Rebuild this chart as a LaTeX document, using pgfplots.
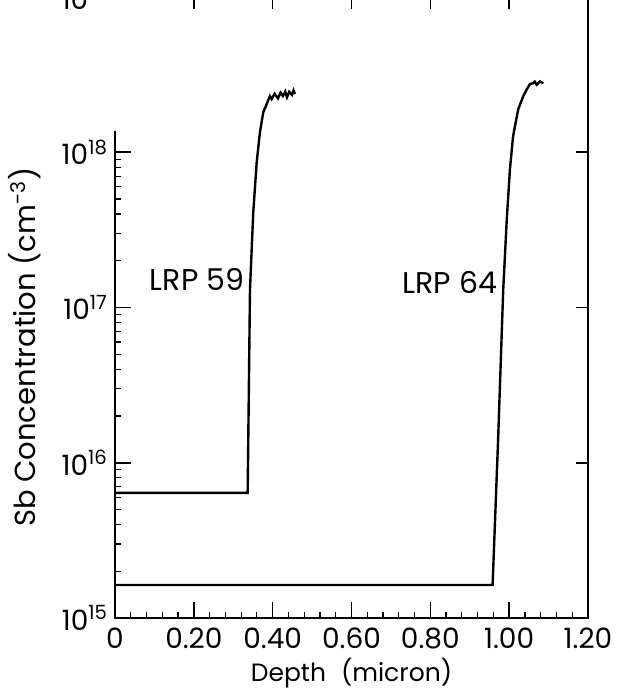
\documentclass[border=0pt]{standalone}
\usepackage{pgfplots}
\usepackage{pgfplotstable}
\pgfplotsset{compat=1.18}
\usepackage{fontspec}
\setmainfont{Poppins}

\pgfplotstableread{
x y
0.000 6.40e15
0.3366 6.40e15
0.3425 1.31e17
0.3508 4.10e17
0.3595 8.61e17
0.3678 1.35e18
0.3762 1.81e18
0.3848 2.04e18
0.3930 2.30e18
0.3975 2.20e18
0.4050 2.38e18
0.4135 2.22e18
0.4200 2.42e18
0.4262 2.30e18
0.4320 2.46e18
0.4363 2.26e18
0.4420 2.45e18
0.4490 2.34e18
0.4530 2.50e18
0.4566 2.37e18
}\lrpa

\pgfplotstableread{
x y
0.000 1.63e15
0.958 1.63e15
0.972 1.41e16
0.985 1.31e17
0.994 3.70e17
1.002 7.76e17
1.010 1.27e18
1.023 1.89e18
1.036 2.30e18
1.045 2.55e18
1.053 2.75e18
1.060 2.78e18
1.065 2.85e18
1.070 2.72e18
1.073 2.76e18
1.078 2.86e18
1.082 2.82e18
1.087 2.79e18
}\lrpb

\begin{document}
\begin{tikzpicture}
\begin{axis}[
  name=main,
  scale only axis, width=236.5pt, height=310.5pt,
  xmin=0, xmax=1.2, ymode=log, ymin=1e15, ymax=1e19,
  axis line style={draw=none},
  clip=false,
  xtick={0,0.2,0.4,0.6,0.8,1.0,1.2},
  xticklabels={0,0.20,0.40,0.60,0.80,1.00,1.20},
  minor x tick num=4,
  xtick pos=left, ytick pos=left,
  ytick={1e15,1e16,1e17,1e18,1e19},
  yticklabels={10\textsuperscript{15},10\textsuperscript{16},10\textsuperscript{17},10\textsuperscript{18},10\textsuperscript{19}},
  minor ytick={2e15,3e15,4e15,5e15,6e15,7e15,8e15,9e15,2e16,3e16,4e16,5e16,6e16,7e16,8e16,9e16,2e17,3e17,4e17,5e17,6e17,7e17,8e17,9e17},
  tick align=inside,
  major tick length=8pt, minor tick length=3pt,
  every major tick/.style={black, line width=0.8pt},
  every minor tick/.style={black, line width=0.6pt},
  tick label style={font=\fontsize{14}{16}\selectfont, black},
  xticklabel style={yshift=-1.5pt},
  xlabel={Depth\hspace{0.6em}(micron)},
  ylabel={Sb Concentration (cm\textsuperscript{-3})},
  xlabel style={font=\fontsize{12.5}{14}\selectfont, at={(axis description cs:0.5,-0.089)}, anchor=center},
  ylabel style={font=\fontsize{14.5}{16}\selectfont, at={(axis description cs:-0.19,0.436)}, anchor=center},
]
\addplot[black, line width=1.1pt, forget plot] coordinates {(0,1.36e18) (0,1e15) (1.2,1e15) (1.2,1e19)};
\addplot[black, line width=1.2pt] table[x=x,y=y] {\lrpa};
\addplot[black, line width=1.2pt] table[x=x,y=y] {\lrpb};
\node[font=\fontsize{15}{17}\selectfont] at (axis cs:0.208,1.51e17) {LRP 59};
\node[font=\fontsize{15}{17}\selectfont] at (axis cs:0.85,1.45e17) {LRP 64};
\end{axis}
\begin{axis}[
  scale only axis, width=236.5pt, height=310.5pt,
  xmin=0, xmax=1.2, ymode=log, ymin=1e15, ymax=1e19,
  axis line style={draw=none},
  xtick={0.2,0.4,0.6,0.8,1.0}, xticklabels={},
  ytick={1e16,1e17,1e18}, yticklabels={},
  xtick pos=right, ytick pos=right,
  xminorticks=false, yminorticks=false,
  tick align=inside, major tick length=6pt,
  every major tick/.style={black, line width=0.8pt},
]
\end{axis}
\pgfresetboundingbox
\path ([xshift=-57.5pt,yshift=-37pt]main.south west) rectangle ([xshift=14.5pt,yshift=-1.5pt]main.north east);
\end{tikzpicture}
\end{document}
